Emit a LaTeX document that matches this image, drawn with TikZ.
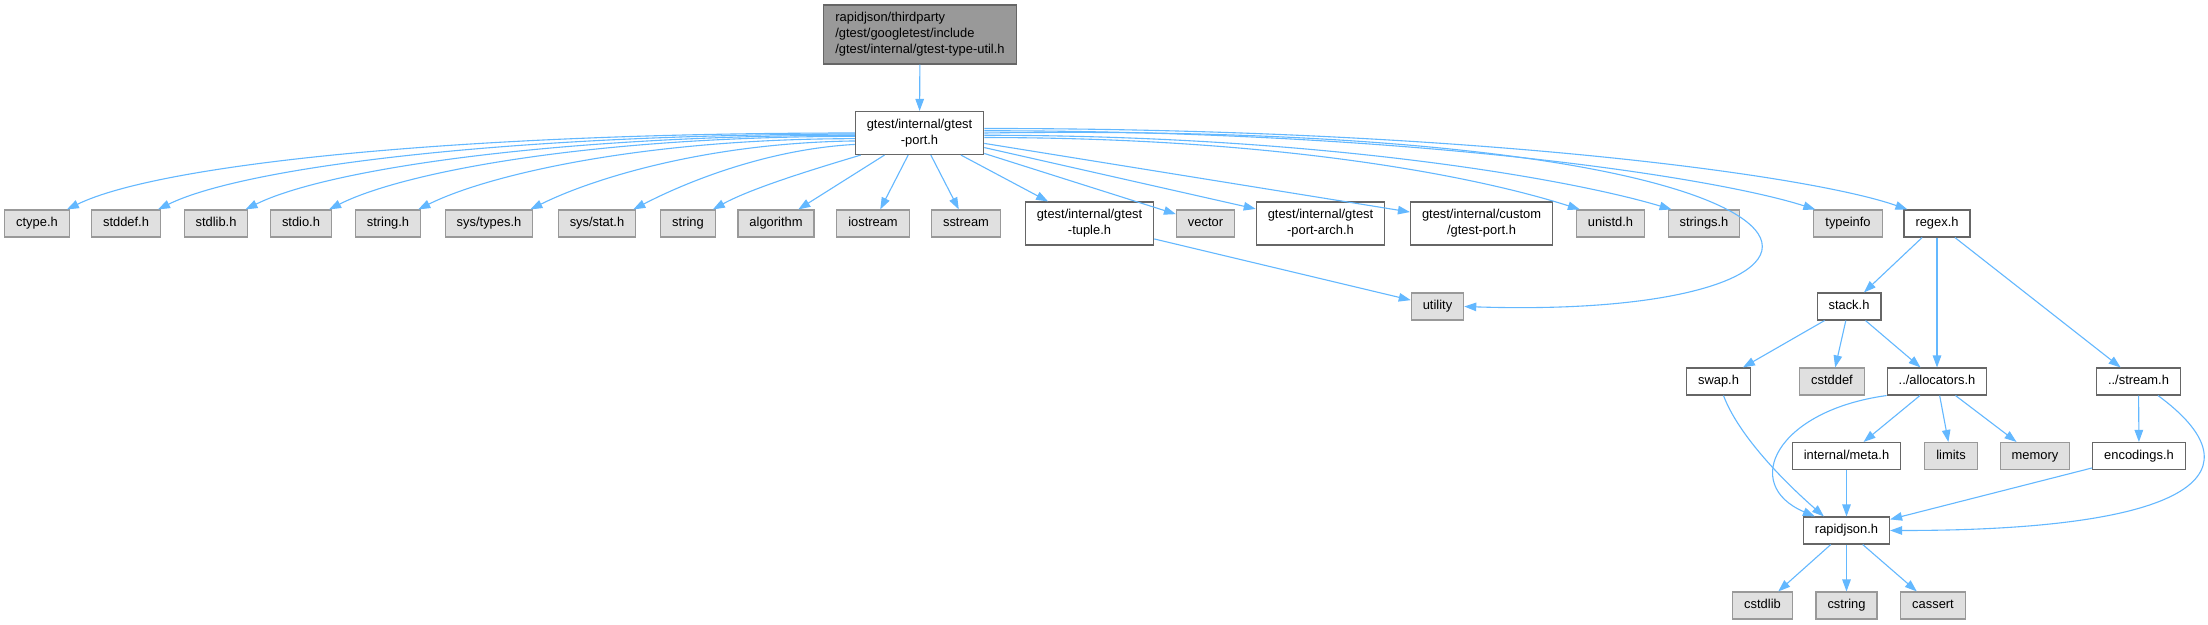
\documentclass[tikz,border=0pt]{standalone}
\usepackage{fontspec}
\setmainfont{Liberation Sans}
\usetikzlibrary{arrows.meta}

\definecolor{depblue}{HTML}{63B8FF}
\definecolor{sysfill}{HTML}{E0E0E0}
\definecolor{sysline}{HTML}{999999}
\definecolor{fileline}{HTML}{666666}
\definecolor{rootfill}{HTML}{999999}

\newcommand{\depfont}{\fontsize{12.9}{16}\selectfont}

\tikzset{
    hbox/.style={line width=1.1pt, inner xsep=11.5pt, inner ysep=0pt, font=\depfont},
    oneline/.style={text height=9.5pt, text depth=3pt, minimum height=27pt},
    twoline/.style={align=center, minimum height=43pt},
    sysfile/.style={hbox, oneline, draw=sysline, fill=sysfill},
    hfile/.style={hbox, draw=fileline, fill=white},
    dep/.style={draw=depblue, line width=1.1pt, -{Triangle[length=12pt,width=8.5pt]}},
}

\begin{document}
\begin{tikzpicture}[x=1pt, y=-1pt]

    \fill[white] (0,0) rectangle (2208,624);
    \useasboundingbox (0,0) rectangle (2208,624);

    % ==========================================
    % TOP: the file itself and gtest-port.h
    % ==========================================
    \node[hfile, fill=rootfill, align=left, minimum height=59pt] (typeutil) at (920,34.5)
        {rapidjson/thirdparty\\/gtest/googletest/include\\/gtest/internal/gtest-type-util.h};
    \node[hfile, twoline] (port) at (919.5,133) {gtest/internal/gtest\\-port.h};

    % ==========================================
    % ROW 1: everything gtest-port.h includes
    % ==========================================
    \node[sysfile] (ctype) at (37,223.5) {ctype.h};
    \node[sysfile] (stddef) at (126,223.5) {stddef.h};
    \node[sysfile] (stdlib) at (216,223.5) {stdlib.h};
    \node[sysfile] (stdio) at (301,223.5) {stdio.h};
    \node[sysfile] (stringh) at (388,223.5) {string.h};
    \node[sysfile] (systypes) at (489,223.5) {sys/types.h};
    \node[sysfile] (sysstat) at (597,223.5) {sys/stat.h};
    \node[sysfile] (string) at (688,223.5) {string};
    \node[sysfile] (algorithm) at (776,223.5) {algorithm};
    \node[sysfile] (iostream) at (873,223.5) {iostream};
    \node[sysfile] (sstream) at (966,223.5) {sstream};
    \node[hfile, twoline] (tuple) at (1089.5,223.5) {gtest/internal/gtest\\-tuple.h};
    \node[sysfile] (vector) at (1205.5,223.5) {vector};
    \node[hfile, twoline] (portarch) at (1320.5,223.5) {gtest/internal/gtest\\-port-arch.h};
    \node[hfile, twoline] (custom) at (1481.5,223.5) {gtest/internal/custom\\/gtest-port.h};
    \node[sysfile] (unistd) at (1610.5,223.5) {unistd.h};
    \node[sysfile] (strings) at (1704,223.5) {strings.h};
    \node[sysfile] (typeinfo) at (1848,223.5) {typeinfo};
    \node[hfile, oneline] (regex) at (1937,223.5) {regex.h};

    % ==========================================
    % LOWER ROWS: utility and the regex.h subtree
    % ==========================================
    \node[sysfile] (utility) at (1437.5,306.5) {utility};
    \node[hfile, oneline] (stack) at (1849,306.5) {stack.h};

    \node[hfile, oneline] (swap) at (1718.5,381.5) {swap.h};
    \node[sysfile] (cstddef) at (1832,381.5) {cstddef};
    \node[hfile, oneline] (allocators) at (1937,381.5) {../allocators.h};
    \node[hfile, oneline] (stream) at (2138.5,381.5) {../stream.h};

    \node[hfile, oneline] (meta) at (1846.5,456) {internal/meta.h};
    \node[sysfile] (limits) at (1951,456) {limits};
    \node[sysfile] (memory) at (2035,456) {memory};
    \node[hfile, oneline] (encodings) at (2139,456) {encodings.h};

    \node[hfile, oneline] (rapidjson) at (1846.5,530.5) {rapidjson.h};

    \node[sysfile] (cstdlib) at (1762.5,605.5) {cstdlib};
    \node[sysfile] (cstring) at (1846.5,605.5) {cstring};
    \node[sysfile] (cassert) at (1933,605.5) {cassert};

    % ==========================================
    % EDGES out of gtest-port.h
    % ==========================================
    \draw[dep] (typeutil) -- (port);

    % long sweeps to the left
    \draw[dep] (port.180) .. controls +(-400,0) and +(92,-45) .. ([xshift=-3pt]ctype.north east);
    \draw[dep] (port.181) .. controls +(-350,0) and +(85,-42) .. ([xshift=-3pt]stddef.north east);
    \draw[dep] (port.182) .. controls +(-300,0) and +(80,-40) .. ([xshift=-3pt]stdlib.north east);
    \draw[dep] (port.183) .. controls +(-260,0) and +(75,-38) .. ([xshift=-3pt]stdio.north east);
    \draw[dep] (port.185) .. controls +(-210,0) and +(70,-35) .. ([xshift=-3pt]stringh.north east);
    \draw[dep] (port.187) .. controls +(-150,2) and +(60,-30) .. ([xshift=-3pt]systypes.north east);
    \draw[dep] (port.190) .. controls +(-90,5) and +(50,-26) .. ([xshift=-3pt]sysstat.north east);
    \draw[dep] ([xshift=6pt]port.south west) .. controls +(-40,12) and +(40,-22) .. ([xshift=-3pt]string.north east);

    % short straight ones
    \draw[dep] (port) -- (algorithm);
    \draw[dep] (port) -- (iostream);
    \draw[dep] (port) -- (sstream);
    \draw[dep] (port) -- (tuple);
    \draw[dep] (port) -- (vector);
    \draw[dep] (port) -- (portarch);
    \draw[dep] (port) -- (custom);

    % long sweeps to the right
    \draw[dep] (port.356) .. controls +(300,0) and +(-100,-32) .. ([xshift=4pt]unistd.north west);
    \draw[dep] (port.358) .. controls +(340,0) and +(-100,-30) .. ([xshift=4pt]strings.north west);
    \draw[dep] (port.2) .. controls +(430,0) and +(-100,-32) .. ([xshift=2pt]typeinfo.north west);
    \draw[dep] (port.4) .. controls +(480,0) and +(-100,-35) .. ([xshift=4pt]regex.north west);
    \draw[dep] (port.east) .. controls +(930,-13) and +(455,15) .. (utility.east);

    \draw[dep] (tuple) -- (utility);

    % ==========================================
    % EDGES in the regex.h subtree
    % ==========================================
    \draw[dep] (regex) -- (stack);
    \draw[dep] (regex) -- (allocators);
    \draw[dep] (regex) -- (stream);

    \draw[dep] (stack) -- (swap);
    \draw[dep] (stack) -- (cstddef);
    \draw[dep] (stack) -- (allocators);

    \draw[dep] ([xshift=5pt]swap.south) .. controls +(15,40) and +(-40,-35) .. ([xshift=21pt]rapidjson.north west);
    \draw[dep] (allocators.south west) .. controls +(-110,15) and +(-75,-32) .. ([xshift=12pt]rapidjson.north west);
    \draw[dep] (allocators) -- (meta);
    \draw[dep] (allocators) -- (limits);
    \draw[dep] (allocators) -- (memory);

    \draw[dep] (stream) -- (encodings);
    \draw[dep] ([xshift=-23pt]stream.south east) .. controls +(102,75) and +(311,0) .. (rapidjson.east);

    \draw[dep] (meta) -- (rapidjson);
    \draw[dep] (encodings) -- (rapidjson);

    \draw[dep] (rapidjson) -- (cstdlib);
    \draw[dep] (rapidjson) -- (cstring);
    \draw[dep] (rapidjson) -- (cassert);

\end{tikzpicture}
\end{document}
